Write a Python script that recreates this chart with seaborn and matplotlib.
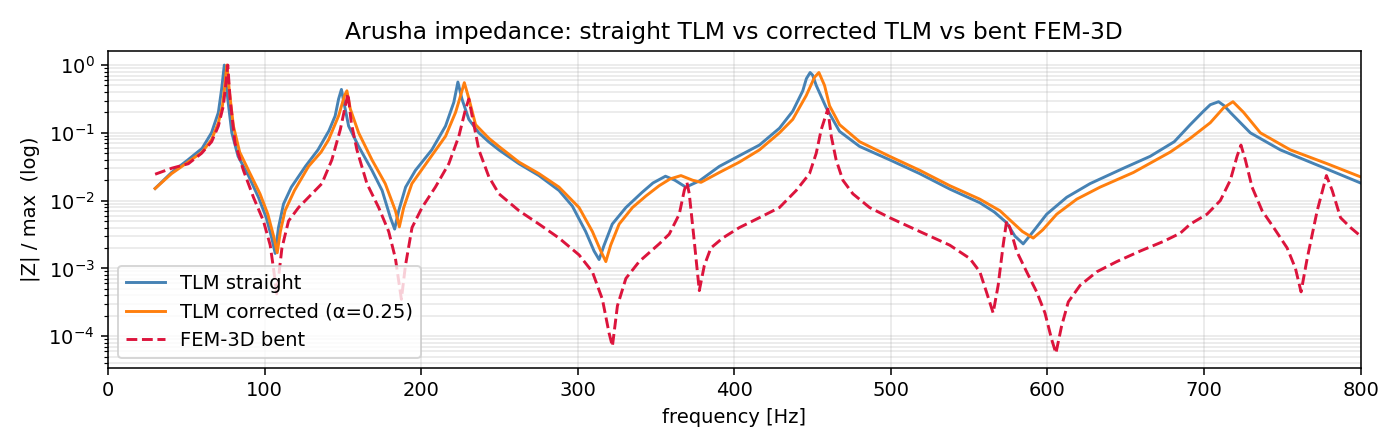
import numpy as np
import matplotlib
matplotlib.use("Agg")
import matplotlib.pyplot as plt
import seaborn as sns

# values (|Z| normalised to max)
freq_straight = [30, 40.5, 51, 60, 66, 70.4, 72.5, 74.2, 76.4, 79, 83, 89.6, 96, 101, 104.5,
                 106.7, 108.8, 112, 117, 126, 134, 141, 145, 147.2, 149, 151, 153.6, 160, 168.5,
                 175, 180.3, 183, 185.6, 190, 196.3, 206.7, 215.5, 220.8, 223.4, 226, 230.4,
                 236.8, 243, 249.6, 262.4, 275.2, 288, 296.5, 305, 310.4, 313.6, 316.8, 322,
                 330.7, 341, 348, 356, 362, 369, 377.6, 390.4, 403.2, 416, 428.8, 437.3, 443.7,
                 446, 448.4, 450, 452.3, 458.7, 467.2, 480, 499.2, 518.4, 537.6, 556.8, 566, 574,
                 579.2, 584.5, 590.9, 599.5, 612.3, 627.2, 648.5, 665.6, 681, 691.2, 699.7, 704,
                 709.3, 713, 716.8, 729.6, 748.8, 774.4, 800]
z_straight = [0.0151, 0.026, 0.040, 0.059, 0.100, 0.200, 0.447, 1.0, 0.316, 0.100, 0.045,
              0.0234, 0.0112, 0.0056, 0.0028, 0.00166, 0.0040, 0.0089, 0.0158, 0.032, 0.056,
              0.107, 0.178, 0.316, 0.437, 0.251, 0.126, 0.063, 0.028, 0.0141, 0.0056, 0.0038,
              0.0071, 0.0158, 0.028, 0.056, 0.126, 0.282, 0.562, 0.316, 0.158, 0.100, 0.074,
              0.056, 0.035, 0.0234, 0.0141, 0.0083, 0.0035, 0.0018, 0.00135, 0.0022, 0.0045,
              0.0079, 0.0132, 0.0182, 0.0229, 0.0200, 0.0158, 0.0195, 0.032, 0.046, 0.066,
              0.117, 0.209, 0.417, 0.63, 0.776, 0.71, 0.501, 0.234, 0.105, 0.063, 0.040, 0.025,
              0.0148, 0.0093, 0.0068, 0.0047, 0.0030, 0.0023, 0.0035, 0.0063, 0.0112, 0.0178,
              0.030, 0.045, 0.074, 0.132, 0.209, 0.26, 0.288, 0.25, 0.200, 0.100, 0.056, 0.032,
              0.0182]

freq_corrected = [30, 40.5, 51, 60, 66, 70.4, 73, 74.5, 75.8, 77.5, 80, 84, 90, 97, 102, 106,
                  108, 110, 113, 119, 128, 136, 140.8, 147.2, 151, 152.5, 154.7, 160, 168.5, 177,
                  183.5, 186, 188.8, 194, 204.8, 215.5, 221.9, 224.5, 227.5, 230.5, 234.7, 243.2,
                  249.6, 262.4, 275.2, 288, 300.8, 309.3, 314.7, 317.9, 321, 326.4, 334.9, 343.5,
                  352, 359, 365.9, 373.3, 378.7, 390.4, 403.2, 416, 428.8, 437.3, 445.9, 451.2,
                  454, 457.6, 460.8, 467.2, 480, 499.2, 518.4, 537.6, 556.8, 569.6, 578, 584,
                  590.9, 597, 605.9, 618.7, 633.6, 654.9, 678.4, 691.2, 704, 712.5, 718.5, 725.3,
                  736, 755.2, 778.7, 800]
z_corrected = [0.0151, 0.025, 0.037, 0.052, 0.079, 0.141, 0.251, 0.501, 1.0, 0.398, 0.126,
               0.052, 0.0269, 0.0126, 0.0063, 0.0028, 0.0017, 0.0035, 0.0071, 0.0141, 0.032,
               0.052, 0.079, 0.178, 0.355, 0.417, 0.224, 0.100, 0.040, 0.0178, 0.0071, 0.0041,
               0.0079, 0.0178, 0.040, 0.089, 0.200, 0.316, 0.55, 0.316, 0.132, 0.083, 0.063,
               0.037, 0.025, 0.0158, 0.0079, 0.0035, 0.0018, 0.00126, 0.0022, 0.0045, 0.0079,
               0.0117, 0.0166, 0.0209, 0.0234, 0.0200, 0.0186, 0.026, 0.037, 0.056, 0.100, 0.158,
               0.355, 0.661, 0.776, 0.501, 0.251, 0.132, 0.074, 0.045, 0.028, 0.0166, 0.0105,
               0.0071, 0.0047, 0.0035, 0.0028, 0.0037, 0.0063, 0.0105, 0.0158, 0.026, 0.052,
               0.083, 0.141, 0.234, 0.288, 0.200, 0.100, 0.056, 0.035, 0.0224]

freq_fem = [30, 40.5, 51.2, 59.7, 66.1, 70.4, 73.6, 75.3, 76.4, 77.9, 81, 86.4, 92.8, 99.2,
            103.5, 105.6, 107.7, 109.5, 111, 115.2, 121.6, 128, 136.5, 142.9, 148.3, 151.5,
            153.2, 155.3, 158.9, 165.3, 172.8, 179.2, 183.5, 187.3, 189.9, 194.1, 200.5, 209,
            217.6, 224, 228.3, 230.4, 232.5, 236.8, 243.2, 249.6, 262.4, 275.2, 288, 300.8,
            309.3, 315.7, 320, 322.1, 325.3, 330.7, 339.2, 352, 358.4, 364.8, 368, 369.7, 371.2,
            374.4, 377.6, 380.8, 385, 392.5, 403.2, 416, 428.8, 439.5, 448, 452.3, 455.5, 459.7,
            461.9, 465, 469.3, 475.7, 486.4, 499.2, 518.4, 537.6, 550.4, 556.8, 561, 565.3,
            568.5, 571.7, 573.9, 576, 580.3, 586.7, 593.1, 598.4, 602.7, 605.4, 609, 613.3,
            620.8, 631.5, 644.3, 659.2, 674.1, 684.8, 691.2, 701.9, 710.4, 716.8, 721.1, 723.6,
            726.4, 730.7, 737.1, 744.5, 753.1, 758.4, 762, 765.9, 772.3, 778.2, 781.9, 787.2,
            793.6, 800]
z_fem = [0.0245, 0.030, 0.035, 0.050, 0.074, 0.126, 0.251, 0.562, 1.0, 0.316, 0.071, 0.028,
         0.0112, 0.0050, 0.0022, 0.0010, 0.00042, 0.0010, 0.0020, 0.0050, 0.0079, 0.0112,
         0.0178, 0.040, 0.112, 0.251, 0.380, 0.141, 0.056, 0.0178, 0.0079, 0.0035, 0.0014,
         0.00035, 0.0011, 0.0040, 0.0079, 0.0158, 0.035, 0.089, 0.224, 0.316, 0.178, 0.056,
         0.0224, 0.0126, 0.0071, 0.0045, 0.0028, 0.00158, 0.00089, 0.00035, 0.00011, 0.000071,
         0.00028, 0.00071, 0.00126, 0.0023, 0.0032, 0.0063, 0.0141, 0.0186, 0.0126, 0.0025,
         0.00047, 0.0011, 0.0020, 0.0028, 0.0040, 0.0056, 0.0079, 0.0141, 0.025, 0.050, 0.112,
         0.224, 0.089, 0.040, 0.020, 0.0126, 0.0079, 0.0056, 0.0035, 0.0022, 0.0014, 0.00089,
         0.00045, 0.00022, 0.00056, 0.0022, 0.0050, 0.0040, 0.0018, 0.00089, 0.00045, 0.00022,
         0.000089, 0.000056, 0.00014, 0.00032, 0.00056, 0.00089, 0.00126, 0.0018, 0.0025,
         0.0033, 0.0045, 0.0063, 0.010, 0.020, 0.045, 0.066, 0.040, 0.0158, 0.0071, 0.0040,
         0.0020, 0.0010, 0.00045, 0.0014, 0.0071, 0.0234, 0.0141, 0.0056, 0.0040, 0.0030]

fig, ax = plt.subplots(figsize=(10, 3.2), dpi=140)

sns.lineplot(x=freq_straight, y=z_straight, ax=ax, color="steelblue", lw=1.5,
             label="TLM straight", sort=False)
sns.lineplot(x=freq_corrected, y=z_corrected, ax=ax, color="tab:orange", lw=1.5,
             label="TLM corrected (α=0.25)", sort=False)
sns.lineplot(x=freq_fem, y=z_fem, ax=ax, color="crimson", lw=1.5, linestyle="--",
             label="FEM-3D bent", sort=False)

ax.set_yscale("log")
ax.set_xlim(0, 800)
ax.grid(True, which="both", alpha=0.3)
ax.set_xlabel("frequency [Hz]")
ax.set_ylabel("|Z| / max  (log)")
ax.set_title("Arusha impedance: straight TLM vs corrected TLM vs bent FEM-3D")
ax.legend(loc="lower left")

plt.tight_layout()
plt.savefig("out.png", dpi=140)
